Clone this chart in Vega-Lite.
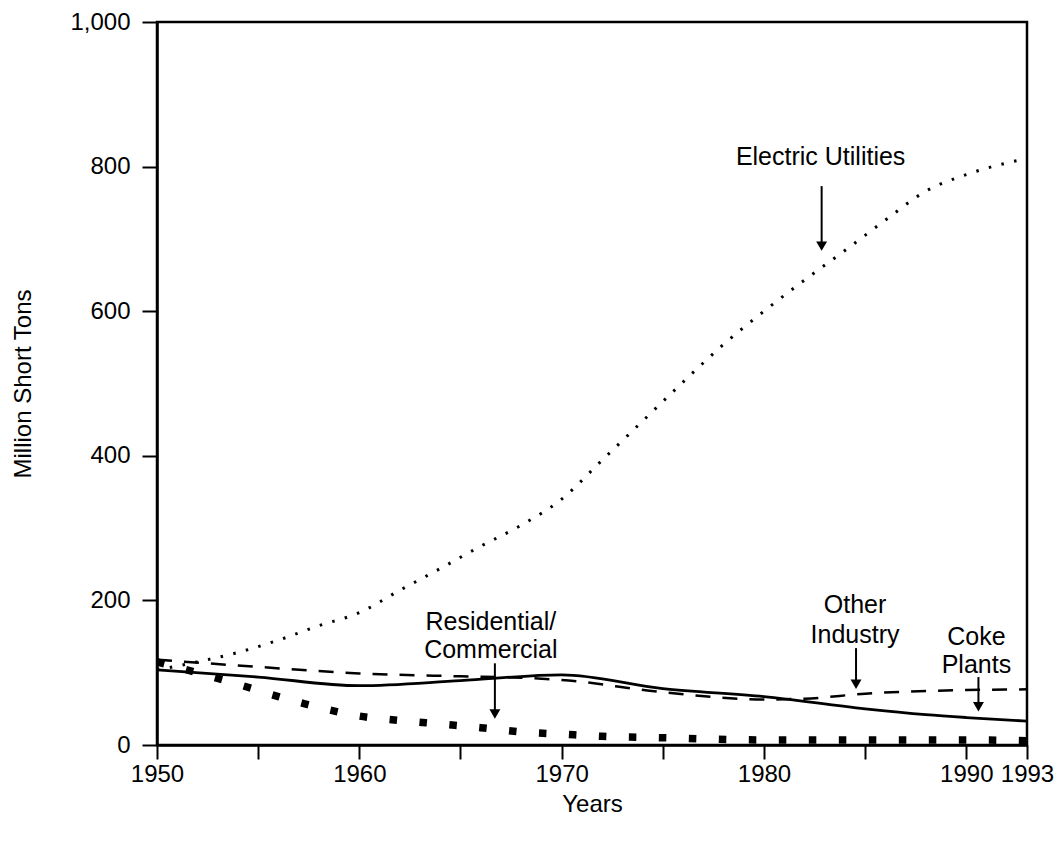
{
  "$schema": "https://vega.github.io/schema/vega-lite/v6.json",
  "width": 870,
  "height": 723,
  "autosize": {"type": "none"},
  "padding": {"left": 157, "top": 22, "right": 33, "bottom": 99},
  "background": "white",
  "config": {
    "view": {"stroke": "black", "strokeWidth": 2.5},
    "font": "Liberation Sans",
    "axis": {
      "labelFont": "Liberation Sans",
      "titleFont": "Liberation Sans",
      "labelFontSize": 24,
      "titleFontSize": 24,
      "titleFontWeight": "normal",
      "labelColor": "black",
      "titleColor": "black",
      "domainColor": "black",
      "tickColor": "black",
      "domainWidth": 2.5,
      "tickWidth": 2,
      "grid": false
    }
  },
  "datasets": {
    "series": [
      {"series": "Electric Utilities", "year": 1950, "value": 104},
      {"series": "Electric Utilities", "year": 1952, "value": 115},
      {"series": "Electric Utilities", "year": 1954, "value": 128},
      {"series": "Electric Utilities", "year": 1956, "value": 145},
      {"series": "Electric Utilities", "year": 1958, "value": 165},
      {"series": "Electric Utilities", "year": 1960, "value": 183},
      {"series": "Electric Utilities", "year": 1962, "value": 214},
      {"series": "Electric Utilities", "year": 1964, "value": 244},
      {"series": "Electric Utilities", "year": 1966, "value": 275},
      {"series": "Electric Utilities", "year": 1968, "value": 304},
      {"series": "Electric Utilities", "year": 1970, "value": 340},
      {"series": "Electric Utilities", "year": 1972, "value": 394},
      {"series": "Electric Utilities", "year": 1974, "value": 448},
      {"series": "Electric Utilities", "year": 1976, "value": 502},
      {"series": "Electric Utilities", "year": 1978, "value": 554},
      {"series": "Electric Utilities", "year": 1980, "value": 600},
      {"series": "Electric Utilities", "year": 1982, "value": 643},
      {"series": "Electric Utilities", "year": 1984, "value": 684},
      {"series": "Electric Utilities", "year": 1986, "value": 726},
      {"series": "Electric Utilities", "year": 1988, "value": 766},
      {"series": "Electric Utilities", "year": 1990, "value": 789},
      {"series": "Electric Utilities", "year": 1992, "value": 805},
      {"series": "Electric Utilities", "year": 1993, "value": 811},
      {"series": "Residential/Commercial", "year": 1950, "value": 115},
      {"series": "Residential/Commercial", "year": 1952, "value": 100},
      {"series": "Residential/Commercial", "year": 1954, "value": 84},
      {"series": "Residential/Commercial", "year": 1956, "value": 67},
      {"series": "Residential/Commercial", "year": 1958, "value": 52},
      {"series": "Residential/Commercial", "year": 1960, "value": 40},
      {"series": "Residential/Commercial", "year": 1962, "value": 34},
      {"series": "Residential/Commercial", "year": 1964, "value": 29},
      {"series": "Residential/Commercial", "year": 1966, "value": 24},
      {"series": "Residential/Commercial", "year": 1968, "value": 18},
      {"series": "Residential/Commercial", "year": 1970, "value": 15},
      {"series": "Residential/Commercial", "year": 1972, "value": 12},
      {"series": "Residential/Commercial", "year": 1975, "value": 10},
      {"series": "Residential/Commercial", "year": 1980, "value": 7},
      {"series": "Residential/Commercial", "year": 1985, "value": 7},
      {"series": "Residential/Commercial", "year": 1990, "value": 7},
      {"series": "Residential/Commercial", "year": 1993, "value": 6},
      {"series": "Other Industry", "year": 1950, "value": 118},
      {"series": "Other Industry", "year": 1955, "value": 108},
      {"series": "Other Industry", "year": 1960, "value": 99},
      {"series": "Other Industry", "year": 1965, "value": 95},
      {"series": "Other Industry", "year": 1968, "value": 93},
      {"series": "Other Industry", "year": 1970, "value": 90},
      {"series": "Other Industry", "year": 1975, "value": 73},
      {"series": "Other Industry", "year": 1980, "value": 63},
      {"series": "Other Industry", "year": 1982, "value": 64},
      {"series": "Other Industry", "year": 1985, "value": 71},
      {"series": "Other Industry", "year": 1990, "value": 76},
      {"series": "Other Industry", "year": 1993, "value": 77},
      {"series": "Coke Plants", "year": 1950, "value": 104},
      {"series": "Coke Plants", "year": 1955, "value": 94},
      {"series": "Coke Plants", "year": 1960, "value": 82},
      {"series": "Coke Plants", "year": 1965, "value": 89},
      {"series": "Coke Plants", "year": 1970, "value": 97},
      {"series": "Coke Plants", "year": 1975, "value": 78},
      {"series": "Coke Plants", "year": 1980, "value": 67},
      {"series": "Coke Plants", "year": 1985, "value": 50},
      {"series": "Coke Plants", "year": 1988, "value": 42},
      {"series": "Coke Plants", "year": 1990, "value": 38},
      {"series": "Coke Plants", "year": 1993, "value": 33}
    ],
    "labels": [
      {"label": "Electric Utilities", "year": 1982.8, "value": 813},
      {"label": "Residential/", "year": 1966.5, "value": 170},
      {"label": "Commercial", "year": 1966.5, "value": 131},
      {"label": "Other", "year": 1984.5, "value": 194},
      {"label": "Industry", "year": 1984.5, "value": 152},
      {"label": "Coke", "year": 1990.5, "value": 149},
      {"label": "Plants", "year": 1990.5, "value": 111}
    ],
    "arrows": [
      {"target": "Electric Utilities", "year": 1982.85, "value": 773, "value2": 690},
      {"target": "Residential/Commercial", "year": 1966.7, "value": 113, "value2": 43},
      {"target": "Other Industry", "year": 1984.55, "value": 134, "value2": 84},
      {"target": "Coke Plants", "year": 1990.6, "value": 94, "value2": 53}
    ]
  },
  "encoding": {
    "x": {
      "field": "year",
      "type": "quantitative",
      "title": "Years",
      "scale": {"domain": [1950, 1993], "nice": false, "zero": false},
      "axis": {
        "values": [1950, 1955, 1960, 1965, 1970, 1975, 1980, 1985, 1990, 1993],
        "format": "d",
        "labelExpr": "(datum.value % 10 == 0 || datum.value == 1993) ? datum.label : ''",
        "tickSize": 14,
        "labelPadding": 3,
        "titlePadding": 6,
        "labelFlush": false,
        "labelOverlap": false
      }
    },
    "y": {
      "field": "value",
      "type": "quantitative",
      "title": "Million Short Tons",
      "scale": {"domain": [0, 1000], "nice": false},
      "axis": {
        "values": [0, 200, 400, 600, 800, 1000],
        "format": ",d",
        "tickSize": 15,
        "labelPadding": 12,
        "titlePadding": 34
      }
    }
  },
  "layer": [
    {
      "data": {"name": "series"},
      "transform": [{"filter": "datum.series == 'Electric Utilities'"}],
      "mark": {"type": "line", "color": "black", "strokeWidth": 3, "strokeDash": [2.5, 10.5], "interpolate": "monotone", "clip": true}
    },
    {
      "data": {"name": "series"},
      "transform": [{"filter": "datum.series == 'Residential/Commercial'"}],
      "mark": {"type": "line", "color": "black", "strokeWidth": 7.5, "strokeDash": [7.5, 22.5], "interpolate": "monotone", "clip": true}
    },
    {
      "data": {"name": "series"},
      "transform": [{"filter": "datum.series == 'Other Industry'"}],
      "mark": {"type": "line", "color": "black", "strokeWidth": 2.5, "strokeDash": [15, 12], "interpolate": "monotone", "clip": true}
    },
    {
      "data": {"name": "series"},
      "transform": [{"filter": "datum.series == 'Coke Plants'"}],
      "mark": {"type": "line", "color": "black", "strokeWidth": 2.8, "interpolate": "monotone", "clip": true}
    },
    {
      "data": {"name": "arrows"},
      "mark": {"type": "rule", "color": "black", "strokeWidth": 2},
      "encoding": {
        "y2": {"field": "value2"}
      }
    },
    {
      "data": {"name": "arrows"},
      "mark": {"type": "point", "shape": "triangle-down", "filled": true, "color": "black", "size": 120, "opacity": 1},
      "encoding": {
        "y": {"field": "value2", "type": "quantitative", "title": "Million Short Tons"}
      }
    },
    {
      "data": {"name": "labels"},
      "mark": {"type": "text", "font": "Liberation Sans", "fontSize": 25, "color": "black", "align": "center", "baseline": "middle"},
      "encoding": {
        "text": {"field": "label"}
      }
    }
  ]
}
